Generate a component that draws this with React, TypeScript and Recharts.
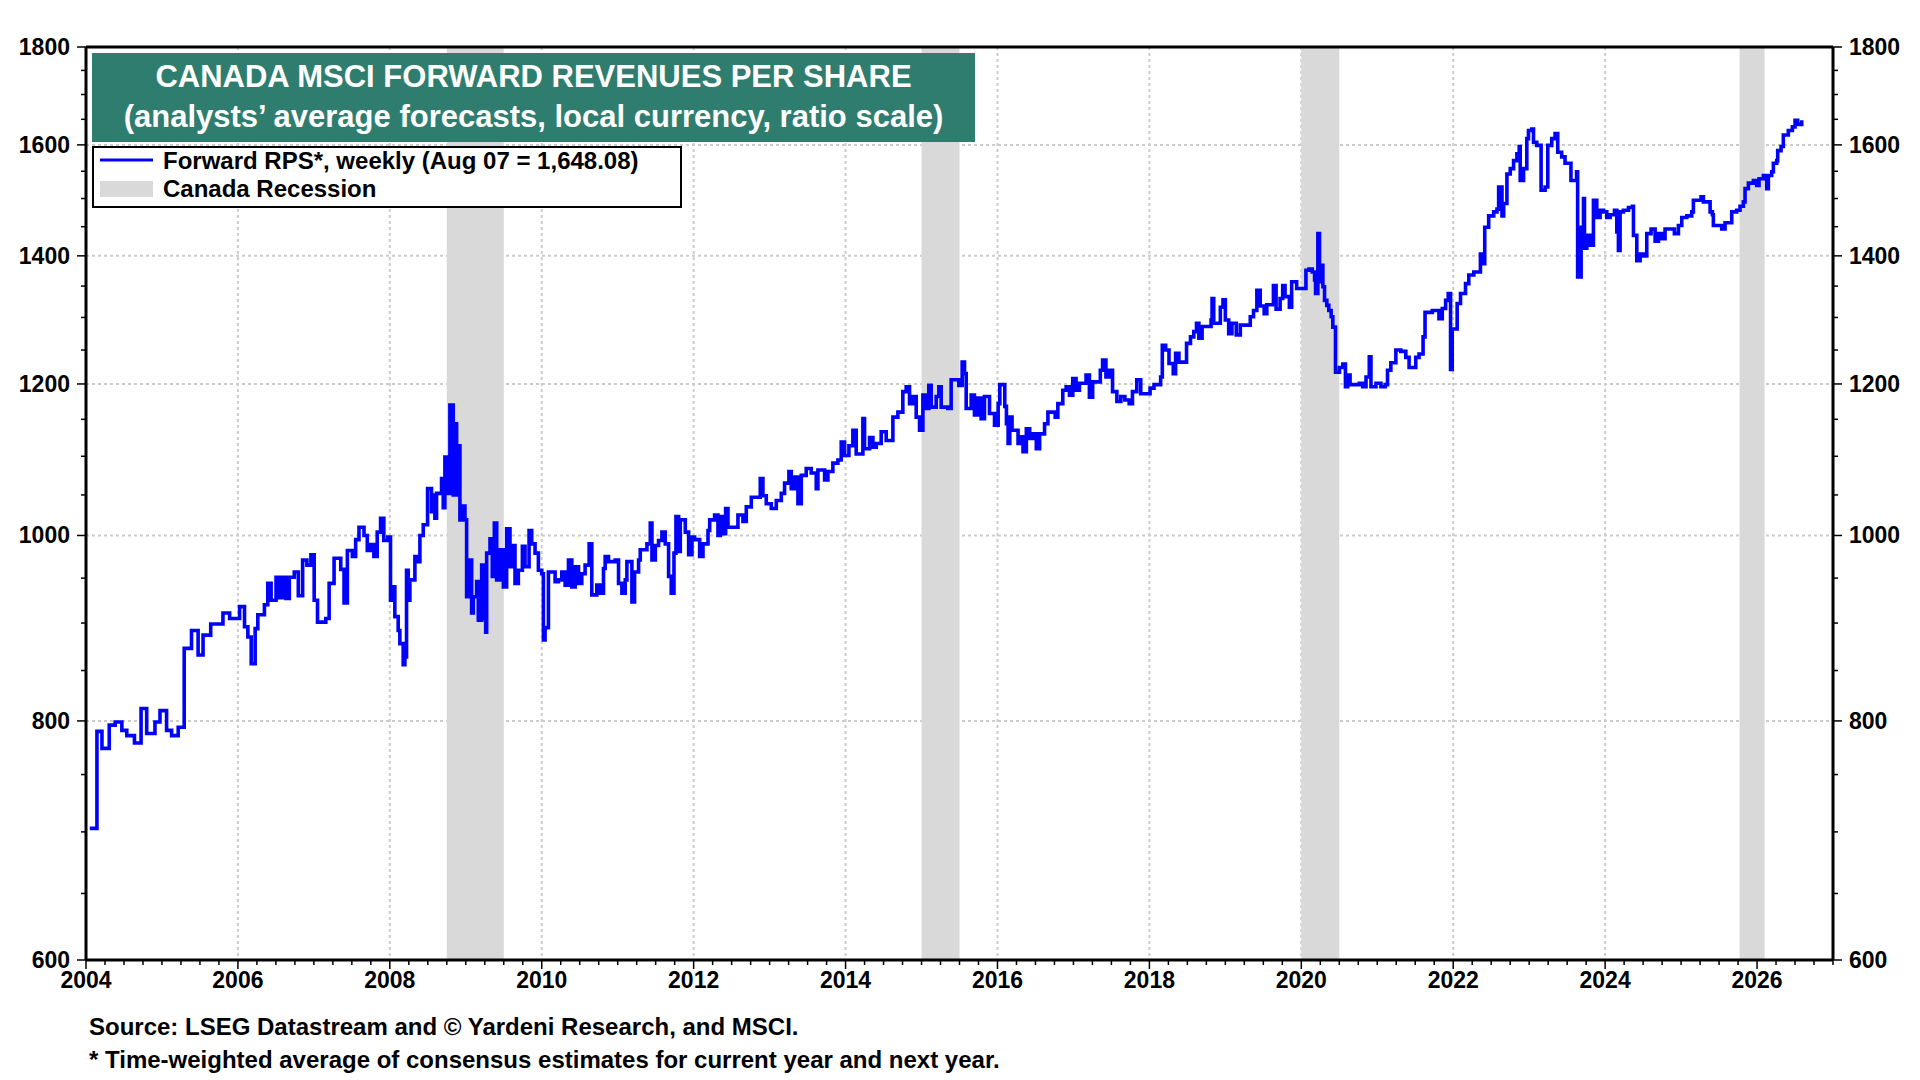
import React from 'react';
import { LineChart, Line, XAxis, YAxis, CartesianGrid, ReferenceArea, ReferenceLine } from 'recharts';

const FONT = '"Liberation Sans", Arial, Helvetica, sans-serif';

// Forward revenues per share: [decimal year, RPS]
const rps2004to2007: [number, number][] = [
  [2004.05, 703], [2004.144, 790], [2004.21, 774], [2004.306, 796], [2004.384, 799],
  [2004.472, 791], [2004.537, 786], [2004.638, 779], [2004.725, 812], [2004.799, 788],
  [2004.908, 799], [2004.974, 810], [2005.061, 791], [2005.127, 786], [2005.214, 794],
  [2005.293, 873], [2005.389, 892], [2005.476, 866], [2005.541, 887], [2005.642, 899],
  [2005.803, 911], [2005.891, 905], [2006.022, 918], [2006.087, 896], [2006.131, 885],
  [2006.175, 857], [2006.227, 894], [2006.262, 909], [2006.349, 920], [2006.393, 944],
  [2006.437, 925], [2006.502, 951], [2006.546, 928], [2006.59, 951], [2006.633, 927],
  [2006.677, 951], [2006.742, 957], [2006.795, 930], [2006.852, 971], [2006.908, 965],
  [2006.961, 977], [2007.004, 925], [2007.048, 901], [2007.157, 905], [2007.201, 944],
  [2007.266, 973], [2007.354, 960], [2007.397, 922], [2007.441, 982], [2007.507, 975],
  [2007.55, 995], [2007.594, 1010], [2007.66, 1000], [2007.703, 982], [2007.747, 989],
  [2007.79, 975], [2007.834, 1004], [2007.878, 1021], [2007.921, 994], [2007.974, 998],
  [2008.009, 925],
];

const rps2008to2011: [number, number][] = [
  [2008.022, 940], [2008.066, 907], [2008.11, 892], [2008.132, 878], [2008.176, 856],
  [2008.198, 864], [2008.22, 959], [2008.242, 925], [2008.264, 948], [2008.33, 975],
  [2008.374, 969], [2008.396, 1000], [2008.44, 1013], [2008.497, 1058], [2008.549, 1029],
  [2008.571, 1050], [2008.593, 1021], [2008.615, 1052], [2008.681, 1071], [2008.703, 1034],
  [2008.725, 1099], [2008.747, 1052], [2008.791, 1170], [2008.835, 1050], [2008.857, 1144],
  [2008.879, 1050], [2008.901, 1114], [2008.923, 1019], [2008.967, 1036], [2008.989, 1019],
  [2009.011, 929], [2009.055, 971], [2009.077, 911], [2009.099, 929], [2009.143, 946],
  [2009.165, 903], [2009.209, 965], [2009.231, 905], [2009.262, 890], [2009.275, 979],
  [2009.319, 996], [2009.349, 952], [2009.376, 1015], [2009.407, 948], [2009.451, 983],
  [2009.495, 940], [2009.538, 1008], [2009.582, 963], [2009.604, 988], [2009.648, 944],
  [2009.692, 959], [2009.745, 987], [2009.78, 963], [2009.833, 1006], [2009.868, 990],
  [2009.912, 979], [2009.956, 959], [2010.0, 955], [2010.022, 882], [2010.044, 895],
  [2010.088, 957], [2010.176, 946], [2010.22, 948], [2010.264, 957], [2010.308, 942],
  [2010.352, 971], [2010.396, 940], [2010.44, 963], [2010.484, 944], [2010.527, 955],
  [2010.571, 965], [2010.624, 990], [2010.659, 931], [2010.725, 942], [2010.769, 933],
  [2010.813, 961], [2010.835, 975], [2010.879, 969], [2010.967, 971], [2011.011, 944],
  [2011.055, 933], [2011.099, 948], [2011.121, 969], [2011.187, 923], [2011.222, 957],
  [2011.275, 971], [2011.297, 983], [2011.385, 990], [2011.429, 1015], [2011.451, 971],
  [2011.495, 988], [2011.538, 994], [2011.582, 1004], [2011.626, 990], [2011.67, 952],
  [2011.705, 933], [2011.741, 979], [2011.767, 1023], [2011.802, 981], [2011.824, 1019],
  [2011.89, 1004], [2011.934, 977], [2011.978, 998],
];

const rps2012to2015: [number, number][] = [
  [2012.013, 995], [2012.079, 975], [2012.123, 990], [2012.189, 1006], [2012.211, 1019],
  [2012.276, 1025], [2012.32, 1000], [2012.351, 1023], [2012.386, 1002], [2012.421, 1033],
  [2012.452, 1010], [2012.583, 1025], [2012.649, 1017], [2012.693, 1035], [2012.759, 1047],
  [2012.877, 1071], [2012.912, 1049], [2012.956, 1039], [2013.022, 1033], [2013.088, 1043],
  [2013.154, 1052], [2013.197, 1065], [2013.254, 1080], [2013.285, 1058], [2013.329, 1073],
  [2013.373, 1039], [2013.417, 1075], [2013.482, 1084], [2013.548, 1078], [2013.614, 1058],
  [2013.636, 1082], [2013.724, 1069], [2013.768, 1080], [2013.833, 1091], [2013.899, 1095],
  [2013.943, 1119], [2013.987, 1101], [2014.044, 1114], [2014.096, 1135], [2014.14, 1103],
  [2014.228, 1151], [2014.25, 1110], [2014.316, 1125], [2014.36, 1112], [2014.404, 1117],
  [2014.469, 1133], [2014.535, 1121], [2014.623, 1153], [2014.689, 1160], [2014.754, 1189],
  [2014.798, 1196], [2014.842, 1172], [2014.886, 1182], [2014.93, 1153], [2014.974, 1135],
  [2015.018, 1184], [2015.061, 1165], [2015.096, 1198], [2015.127, 1167], [2015.193, 1182],
  [2015.228, 1196], [2015.259, 1167], [2015.346, 1165], [2015.39, 1206], [2015.491, 1198],
  [2015.535, 1232], [2015.566, 1215], [2015.588, 1165], [2015.654, 1184], [2015.697, 1156],
  [2015.741, 1180], [2015.785, 1151], [2015.829, 1182], [2015.895, 1158], [2015.961, 1142],
];

const rps2016to2019: [number, number][] = [
  [2016.009, 1172], [2016.031, 1199], [2016.096, 1168], [2016.118, 1144], [2016.14, 1117],
  [2016.162, 1153], [2016.192, 1135], [2016.271, 1117], [2016.306, 1126], [2016.336, 1106],
  [2016.38, 1137], [2016.424, 1124], [2016.467, 1130], [2016.511, 1110], [2016.555, 1130],
  [2016.62, 1144], [2016.664, 1160], [2016.76, 1153], [2016.795, 1172], [2016.86, 1191],
  [2016.904, 1196], [2016.948, 1184], [2016.991, 1208], [2017.035, 1191], [2017.079, 1201],
  [2017.166, 1213], [2017.21, 1181], [2017.253, 1203], [2017.354, 1220], [2017.384, 1235],
  [2017.428, 1210], [2017.472, 1220], [2017.515, 1189], [2017.572, 1175], [2017.624, 1182],
  [2017.677, 1177], [2017.734, 1172], [2017.777, 1189], [2017.834, 1206], [2017.886, 1186],
  [2018.009, 1194], [2018.061, 1199], [2018.148, 1210], [2018.17, 1257], [2018.214, 1250],
  [2018.258, 1230], [2018.314, 1215], [2018.345, 1245], [2018.389, 1232], [2018.489, 1260],
  [2018.541, 1270], [2018.585, 1278], [2018.62, 1291], [2018.651, 1268], [2018.694, 1286],
  [2018.812, 1296], [2018.825, 1330], [2018.847, 1291], [2018.934, 1316], [2018.969, 1328],
  [2019.0, 1296], [2019.044, 1275], [2019.087, 1291], [2019.144, 1273], [2019.197, 1288],
  [2019.328, 1301], [2019.371, 1311], [2019.415, 1343], [2019.459, 1318], [2019.511, 1306],
  [2019.546, 1320], [2019.633, 1351], [2019.668, 1313], [2019.721, 1330], [2019.755, 1351],
  [2019.786, 1333], [2019.843, 1316], [2019.873, 1357], [2019.939, 1346], [2020.061, 1376],
];

const rps2020to2023: [number, number][] = [
  [2020.1, 1378], [2020.144, 1373], [2020.175, 1360], [2020.188, 1338], [2020.218, 1438],
  [2020.24, 1357], [2020.262, 1384], [2020.284, 1349], [2020.306, 1327], [2020.336, 1319],
  [2020.362, 1311], [2020.393, 1301], [2020.415, 1285], [2020.45, 1217], [2020.502, 1224],
  [2020.546, 1229], [2020.581, 1196], [2020.611, 1213], [2020.642, 1199], [2020.764, 1201],
  [2020.808, 1196], [2020.852, 1210], [2020.895, 1240], [2020.917, 1196], [2020.983, 1201],
  [2021.048, 1196], [2021.105, 1199], [2021.135, 1220], [2021.179, 1231], [2021.245, 1250],
  [2021.31, 1248], [2021.376, 1239], [2021.419, 1224], [2021.507, 1239], [2021.55, 1244],
  [2021.603, 1270], [2021.629, 1308], [2021.725, 1311], [2021.812, 1298], [2021.856, 1314],
  [2021.9, 1327], [2021.934, 1338], [2021.965, 1221], [2021.987, 1282], [2022.052, 1322],
  [2022.096, 1338], [2022.162, 1354], [2022.205, 1368], [2022.271, 1373], [2022.358, 1403],
  [2022.402, 1387], [2022.415, 1449], [2022.467, 1469], [2022.533, 1476], [2022.576, 1481],
  [2022.598, 1521], [2022.642, 1469], [2022.664, 1491], [2022.707, 1545], [2022.751, 1555],
  [2022.795, 1570], [2022.838, 1583], [2022.869, 1597], [2022.882, 1533], [2022.926, 1555],
  [2022.969, 1612], [2022.991, 1628], [2023.035, 1631], [2023.057, 1605], [2023.1, 1599],
  [2023.157, 1515], [2023.21, 1521], [2023.245, 1599], [2023.297, 1612], [2023.341, 1622],
  [2023.376, 1586], [2023.428, 1577], [2023.472, 1565], [2023.55, 1533], [2023.624, 1549],
  [2023.638, 1365],
];

const rps2023to2026: [number, number][] = [
  [2023.684, 1449], [2023.715, 1500], [2023.728, 1413], [2023.759, 1435], [2023.803, 1418],
  [2023.846, 1497], [2023.89, 1466], [2023.934, 1479], [2023.978, 1476], [2024.022, 1466],
  [2024.066, 1471], [2024.123, 1479], [2024.154, 1441], [2024.175, 1409], [2024.197, 1476],
  [2024.241, 1479], [2024.307, 1484], [2024.36, 1486], [2024.373, 1435], [2024.417, 1392],
  [2024.461, 1403], [2024.504, 1400], [2024.548, 1438], [2024.605, 1446], [2024.658, 1425],
  [2024.702, 1438], [2024.746, 1429], [2024.789, 1446], [2024.912, 1438], [2024.965, 1452],
  [2025.009, 1466], [2025.075, 1469], [2025.14, 1476], [2025.162, 1497], [2025.263, 1503],
  [2025.294, 1494], [2025.382, 1476], [2025.412, 1471], [2025.425, 1452], [2025.535, 1446],
  [2025.579, 1457], [2025.667, 1476], [2025.732, 1479], [2025.776, 1486], [2025.82, 1494],
  [2025.842, 1518], [2025.886, 1528], [2025.952, 1533], [2025.996, 1524], [2026.026, 1536],
  [2026.083, 1542], [2026.127, 1518], [2026.149, 1542], [2026.193, 1549], [2026.215, 1565],
  [2026.259, 1570], [2026.272, 1589], [2026.316, 1597], [2026.346, 1619], [2026.412, 1628],
  [2026.465, 1635], [2026.5, 1648], [2026.535, 1640], [2026.588, 1648],
];

const recessions = [
  { start: 2008.75, end: 2009.5 },
  { start: 2015.0, end: 2015.5 },
  { start: 2020.0, end: 2020.5 },
  { start: 2025.77, end: 2026.1 },
];

const yearTicks = [2004, 2006, 2008, 2010, 2012, 2014, 2016, 2018, 2020, 2022, 2024, 2026];
const rpsTicks = [600, 800, 1000, 1200, 1400, 1600, 1800];

// minor ticks: quarters on x, every 50 on y
const quarterTicks = Array.from({ length: 23 * 4 + 1 }, (_, i) => 2004 + i * 0.25);
const rpsMinorTicks = Array.from({ length: 25 }, (_, i) => 600 + i * 50);

const data = [rps2004to2007, rps2008to2011, rps2012to2015, rps2016to2019, rps2020to2023, rps2023to2026]
  .flat()
  .map(([t, v]) => ({ t, v }));

const tickLabel = { fontSize: 23, fontWeight: 700, fontFamily: FONT, fill: '#000' };
const noteText = { fontSize: 24, fontWeight: 700, fontFamily: FONT, fill: '#000' };

function YearTick(props: any) {
  const { x, y, payload } = props;
  const v = payload.value;
  const major = yearTicks.includes(v);
  return (
    <g>
      <line x1={x} x2={x} y1={y} y2={y + (major ? 9 : 5)} stroke="#000" strokeWidth={1.5} />
      {major && (
        <text x={x} y={y + 28} textAnchor="middle" {...tickLabel}>
          {v}
        </text>
      )}
    </g>
  );
}

function RpsTick(props: any) {
  const { x, y, payload, side } = props;
  const v = payload.value;
  const major = rpsTicks.includes(v);
  const dir = side === 'left' ? -1 : 1;
  return (
    <g>
      <line x1={x} x2={x + dir * (major ? 9 : 5)} y1={y} y2={y} stroke="#000" strokeWidth={1.5} />
      {major && (
        <text x={x + dir * 16} y={y + 8} textAnchor={side === 'left' ? 'end' : 'start'} {...tickLabel}>
          {v}
        </text>
      )}
    </g>
  );
}

export default function App() {
  return (
    <div style={{ position: 'absolute', left: 0, top: 0, width: 1920, height: 1080, background: '#fff' }}>
      <LineChart width={1920} height={1080} data={data} margin={{ top: 47, right: 7, bottom: 80, left: 6 }}>
        <CartesianGrid
          vertical
          horizontal
          verticalValues={yearTicks.slice(1)}
          horizontalValues={rpsTicks.slice(1, -1)}
          stroke="#cccccc"
          strokeWidth={2}
          strokeDasharray="3 3"
        />
        {recessions.map((r) => (
          <ReferenceArea key={r.start} x1={r.start} x2={r.end} fill="#d9d9d9" fillOpacity={1} stroke="none" />
        ))}
        <XAxis
          dataKey="t"
          type="number"
          domain={[2004, 2027]}
          ticks={quarterTicks}
          interval={0}
          tickLine={false}
          tickSize={0}
          tickMargin={0}
          tick={(p: any) => <YearTick {...p} />}
          axisLine={{ stroke: '#000', strokeWidth: 3 }}
          height={40}
          allowDataOverflow
        />
        <YAxis
          type="number"
          scale="log"
          domain={[600, 1800]}
          ticks={rpsMinorTicks}
          interval={0}
          tickLine={false}
          tickSize={0}
          tickMargin={0}
          tick={(p: any) => <RpsTick {...p} side="left" />}
          axisLine={{ stroke: '#000', strokeWidth: 3 }}
          width={80}
          allowDataOverflow
        />
        <YAxis
          yAxisId="right"
          orientation="right"
          type="number"
          scale="log"
          domain={[600, 1800]}
          ticks={rpsMinorTicks}
          interval={0}
          tickLine={false}
          tickSize={0}
          tickMargin={0}
          tick={(p: any) => <RpsTick {...p} side="right" />}
          axisLine={{ stroke: '#000', strokeWidth: 3 }}
          width={80}
          allowDataOverflow
        />
        <ReferenceLine y={1800} stroke="#000" strokeWidth={3} />
        <Line
          dataKey="v"
          type="stepAfter"
          stroke="#0000ff"
          strokeWidth={3.6}
          dot={false}
          activeDot={false}
          isAnimationActive={false}
        />
      </LineChart>

      <svg width={1920} height={1080} style={{ position: 'absolute', left: 0, top: 0, pointerEvents: 'none' }}>
        <rect x={92} y={53} width={883} height={89} fill="#2e7d6f" />
        <text x={533.5} y={87} textAnchor="middle" fontSize={31} fontWeight={700} fontFamily={FONT} fill="#fff">
          CANADA MSCI FORWARD REVENUES PER SHARE
        </text>
        <text x={533.5} y={127} textAnchor="middle" fontSize={31} fontWeight={700} fontFamily={FONT} fill="#fff">
          (analysts’ average forecasts, local currency, ratio scale)
        </text>

        <rect x={93} y={147} width={588} height={60} fill="#fff" stroke="#000" strokeWidth={2} />
        <line x1={100} x2={153} y1={160} y2={160} stroke="#0000ff" strokeWidth={3} />
        <text x={163} y={169} {...noteText}>
          Forward RPS*, weekly (Aug 07 = 1,648.08)
        </text>
        <rect x={100} y={181} width={53} height={16} fill="#d9d9d9" />
        <text x={163} y={197} {...noteText}>
          Canada Recession
        </text>

        <text x={89} y={1035} {...noteText}>
          Source: LSEG Datastream and © Yardeni Research, and MSCI.
        </text>
        <text x={89} y={1068} {...noteText}>
          * Time-weighted average of consensus estimates for current year and next year.
        </text>
      </svg>
    </div>
  );
}
